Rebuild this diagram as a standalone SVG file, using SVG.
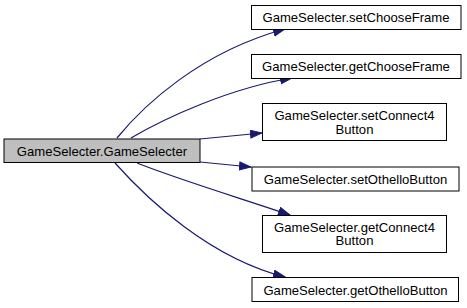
<svg xmlns="http://www.w3.org/2000/svg" width="467" height="308" viewBox="0 0 467 308">
  <style>
    .node rect { fill: #ffffff; stroke: #000000; stroke-width: 1; }
    #n0 rect { fill: #bfbfbf; }
    .node text { font-family: "Liberation Sans", Arial, Helvetica, sans-serif; font-size: 13.1px; fill: #000000; text-anchor: middle; }
    .edge { fill: none; stroke: #191970; stroke-width: 1.2; marker-end: url(#arrow); }
  </style>
  <defs>
    <marker id="arrow" markerUnits="userSpaceOnUse" markerWidth="13" markerHeight="10" refX="12" refY="4.5" orient="auto">
      <path d="M0.5,0.5 L12,4.5 L0.5,8.5 z" fill="#191970" stroke="#191970" stroke-width="1"/>
    </marker>
  </defs>

  <rect width="467" height="308" fill="#ffffff"/>

  <!-- call edges -->
  <g id="edges">
    <path class="edge" d="M117,138 C143,106 200,52 285,29"/>
    <path class="edge" d="M131,138 C165,118 230,88 292,78"/>
    <path class="edge" d="M200,139 L262,133"/>
    <path class="edge" d="M200,162 L251,167"/>
    <path class="edge" d="M137,163 C180,180 240,198 290,215"/>
    <path class="edge" d="M115,163 C148,200 210,258 285,277"/>
  </g>

  <g id="n0" class="node">
    <rect x="4" y="139" width="196" height="23.5"/>
    <text x="102" y="155.5">GameSelecter.GameSelecter</text>
  </g>
  <g id="n1" class="node">
    <rect x="251.5" y="5.5" width="209.5" height="24"/>
    <text x="356" y="22">GameSelecter.setChooseFrame</text>
  </g>
  <g id="n2" class="node">
    <rect x="251.5" y="54.5" width="209.5" height="24"/>
    <text x="356" y="71">GameSelecter.getChooseFrame</text>
  </g>
  <g id="n3" class="node">
    <rect x="262.5" y="103.5" width="184" height="37"/>
    <text x="354.5" y="120">GameSelecter.setConnect4</text>
    <text x="354.5" y="133.5">Button</text>
  </g>
  <g id="n4" class="node">
    <rect x="252" y="167" width="207" height="24"/>
    <text x="355.5" y="183.5">GameSelecter.setOthelloButton</text>
  </g>
  <g id="n5" class="node">
    <rect x="262.5" y="215.5" width="184" height="37"/>
    <text x="354.5" y="231.5">GameSelecter.getConnect4</text>
    <text x="354.5" y="245">Button</text>
  </g>
  <g id="n6" class="node">
    <rect x="252" y="277.5" width="206.5" height="24"/>
    <text x="355.5" y="294.5">GameSelecter.getOthelloButton</text>
  </g>
</svg>
